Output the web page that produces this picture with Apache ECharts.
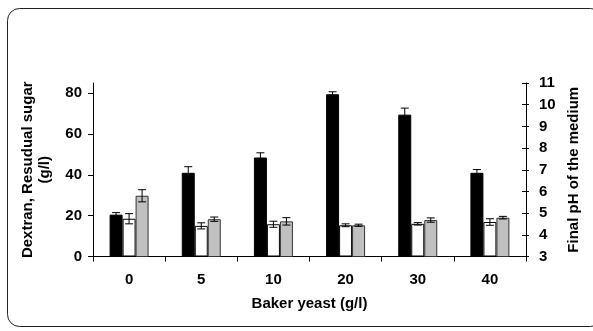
<!DOCTYPE html>
<html>
<head>
<meta charset="utf-8">
<script src="https://cdn.jsdelivr.net/npm/echarts@6/dist/echarts.min.js"></script>
<style>
  html, body { margin: 0; padding: 0; background: #fff; }
  #chart { width: 593px; height: 331px; }
</style>
</head>
<body>
<div id="chart"></div>
<script>
// Baker yeast dose (g/l)
const categories = ['0', '5', '10', '20', '30', '40'];

// Dextran (g/l), left axis
const dextran = [20.5, 41, 48.5, 79.5, 69.5, 41];
const dextranErr = [1, 3, 2.3, 1.2, 3.2, 1.6];

// Residual sugar (g/l), left axis
const sugar = [18.5, 15, 15.8, 15.3, 16, 16.9];
const sugarErr = [2.5, 1.5, 1.5, 0.7, 0.6, 1.6];

// Final pH of the medium, right axis
const ph = [5.8, 4.72, 4.62, 4.44, 4.68, 4.79];
const phErr = [0.28, 0.1, 0.17, 0.05, 0.1, 0.06];

const leftTicks = [0, 20, 40, 60, 80];

const FONT = '"Liberation Sans", Arial, sans-serif';
const BAR_W = 13;

// error bar drawn at a horizontal offset (in bar widths) from the category centre
function errorBars(values, errs, slot, yAxisIndex) {
  return {
    type: 'custom',
    yAxisIndex: yAxisIndex,
    z: 5,
    silent: true,
    data: values.map((v, i) => [i, v, errs[i]]),
    renderItem: function (params, api) {
      const i = api.value(0), v = api.value(1), e = api.value(2);
      const top = api.coord([i, v + e]);
      const bot = api.coord([i, v - e]);
      const x = top[0] + slot * BAR_W;
      const cap = 4;
      const style = { stroke: '#000', lineWidth: 1 };
      return {
        type: 'group',
        children: [
          { type: 'line', shape: { x1: x, y1: top[1], x2: x, y2: bot[1] }, style: style },
          { type: 'line', shape: { x1: x - cap, y1: top[1], x2: x + cap, y2: top[1] }, style: style },
          { type: 'line', shape: { x1: x - cap, y1: bot[1], x2: x + cap, y2: bot[1] }, style: style }
        ]
      };
    }
  };
}

const chart = echarts.init(document.getElementById('chart'), null, { renderer: 'canvas' });

chart.setOption({
  animation: false,
  backgroundColor: '#fff',
  textStyle: { fontFamily: FONT },
  grid: { left: 93, right: 67, top: 83, bottom: 74.5, containLabel: false },
  graphic: [{
    type: 'rect',
    shape: { x: 7.5, y: 8.5, width: 595, height: 318, r: 12 },
    style: { fill: 'none', stroke: '#222', lineWidth: 1 },
    silent: true,
    z: -10
  }],
  xAxis: {
    type: 'category',
    data: categories,
    boundaryGap: true,
    name: 'Baker yeast (g/l)',
    nameLocation: 'middle',
    nameGap: 40,
    nameTextStyle: { fontFamily: FONT, fontWeight: 'bold', fontSize: 15, color: '#000' },
    axisLine: { lineStyle: { color: '#000', width: 1 } },
    axisTick: { show: true, length: 5, lineStyle: { color: '#000' } },
    axisLabel: { margin: 16, fontFamily: FONT, fontWeight: 'bold', fontSize: 15, color: '#000' },
    splitLine: { show: false }
  },
  yAxis: [
    {
      type: 'value',
      position: 'left',
      min: 0,
      max: 85,
      interval: 20,
      name: 'Dextran, Resudual sugar\n(g/l)',
      nameLocation: 'middle',
      nameRotate: 90,
      nameGap: 40,
      nameTextStyle: { fontFamily: FONT, fontWeight: 'bold', fontSize: 15, color: '#000', lineHeight: 17, align: 'center' },
      axisLine: { show: true, lineStyle: { color: '#000', width: 1 } },
      axisTick: { show: true, length: 5, customValues: leftTicks, lineStyle: { color: '#000' } },
      axisLabel: { margin: 11, customValues: leftTicks, fontFamily: FONT, fontWeight: 'bold', fontSize: 15, color: '#000' },
      splitLine: { show: false }
    },
    {
      type: 'value',
      position: 'right',
      min: 3,
      max: 11,
      interval: 1,
      name: 'Final pH of the medium',
      nameLocation: 'middle',
      nameRotate: 90,
      nameGap: 37,
      nameTextStyle: { fontFamily: FONT, fontWeight: 'bold', fontSize: 15, color: '#000' },
      axisLine: { show: true, lineStyle: { color: '#000', width: 1 } },
      axisTick: { show: true, length: 3, lineStyle: { color: '#000' } },
      axisLabel: { margin: 13, fontFamily: FONT, fontWeight: 'bold', fontSize: 15, color: '#000' },
      splitLine: { show: false }
    },
    {
      // inner half of the crossing ticks on the pH axis
      type: 'value',
      position: 'right',
      min: 3,
      max: 11,
      interval: 1,
      axisLine: { show: false },
      axisTick: { show: true, inside: true, length: 4, lineStyle: { color: '#000' } },
      axisLabel: { show: false },
      splitLine: { show: false }
    }
  ],
  series: [
    {
      name: 'Dextran',
      type: 'bar',
      yAxisIndex: 0,
      data: dextran,
      barWidth: BAR_W,
      barGap: '0%',
      itemStyle: { color: '#000', borderColor: '#000', borderWidth: 1 }
    },
    {
      name: 'Residual sugar',
      type: 'bar',
      yAxisIndex: 0,
      data: sugar,
      barWidth: BAR_W,
      barGap: '0%',
      itemStyle: { color: '#fff', borderColor: '#000', borderWidth: 1 }
    },
    {
      name: 'Final pH',
      type: 'bar',
      yAxisIndex: 1,
      data: ph,
      barWidth: BAR_W,
      barGap: '0%',
      itemStyle: { color: '#c0c0c0', borderColor: '#333', borderWidth: 1 }
    },
    errorBars(dextran, dextranErr, -1, 0),
    errorBars(sugar, sugarErr, 0, 0),
    errorBars(ph, phErr, 1, 1)
  ]
});
</script>
</body>
</html>
